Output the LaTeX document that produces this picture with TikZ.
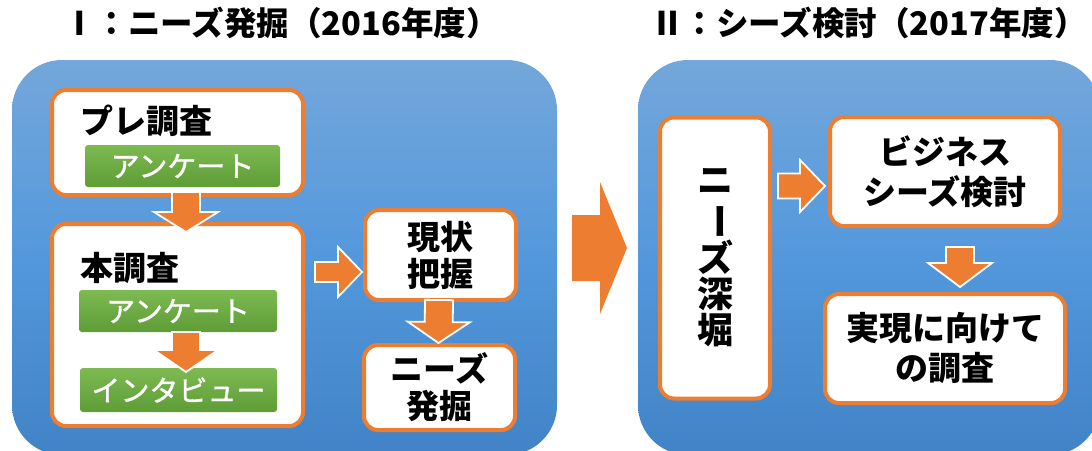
\documentclass[tikz,border=0pt]{standalone}
\usepackage{fontspec}
\usepackage{graphicx}
\newfontfamily\jp{Noto Sans CJK JP}
\newfontfamily\jpg[FakeBold=1.2]{Noto Sans CJK JP}
\usetikzlibrary{calc}
\definecolor{orng}{HTML}{ED7D31}
\definecolor{blueT}{HTML}{74A7DB}
\definecolor{blueM}{HTML}{5398DC}
\definecolor{blueB}{HTML}{4183C6}
\definecolor{greenT}{HTML}{7DBA52}
\definecolor{greenB}{HTML}{5E9C36}
\newcommand\barrow[6][]{%
  \coordinate (ba-h) at ($#3!#6!#2$);
  \path[barrowstyle,#1] ($#2!#4!90:#3$) -- ($(ba-h)!#4!90:#3$) -- ($(ba-h)!#5!90:#3$) -- #3
    -- ($(ba-h)!#5!-90:#3$) -- ($(ba-h)!#4!-90:#3$) -- ($#2!#4!-90:#3$) -- cycle;
}
\tikzset{
  barrowstyle/.style={fill=orng, draw=white, line width=1.8pt, line join=miter},
  panel/.style={rounded corners=50pt, top color=blueT, bottom color=blueB, middle color=blueM, inner sep=0pt, outer sep=0pt},
  obox/.style={draw=orng, line width=4pt, fill=white, rounded corners=14pt, inner sep=0pt, outer sep=2pt,
    align=center, font=\jp\bfseries\fontsize{33}{37}\selectfont},
  gbox/.style={top color=greenT, bottom color=greenB, rounded corners=3pt, inner sep=0pt, outer sep=0pt,
    text=white, font=\jpg\fontsize{29}{32}\selectfont},
  ttl/.style={font=\jp\bfseries\fontsize{32.5}{36}\selectfont, inner sep=0pt},
  lbl/.style={font=\jp\bfseries\fontsize{33}{37}\selectfont, inner sep=0pt, anchor=west},
}
\begin{document}
\begin{tikzpicture}[x=1pt,y=-1pt]
\useasboundingbox (0,0) rectangle (1092,450);
\clip (0,0) rectangle (1092,450);
% titles
\node[ttl] (t1) at (281,23) {Ⅰ：ニーズ発掘（2016年度）};
\node[ttl] (t2) at (869,23) {Ⅱ：シーズ検討（2017年度）};
% panels
\node[panel, minimum width=545pt, minimum height=395pt] (p1) at (284.5,257.5) {};
\node[panel, minimum width=462pt, minimum height=395pt] (p2) at (869,257.5) {};
% left panel boxes
\node[obox, minimum width=251pt, minimum height=105pt] (pre) at (177.5,142.5) {};
\node[lbl] (pret) at (80,121) {プレ調査};
\node[gbox, minimum width=195pt, minimum height=42pt] (ank1) at (182.5,166) {アンケート};
\node[obox, minimum width=251pt, minimum height=202pt] (main) at (177.5,325) {};
\node[lbl] (maint) at (80,268) {本調査};
\node[gbox, minimum width=198pt, minimum height=42pt] (ank2) at (178,311) {アンケート};
\node[gbox, minimum width=197pt, minimum height=44pt] (intv) at (178.5,390) {インタビュー};
\node[obox, minimum width=151pt, minimum height=90pt] (genjo) at (440.5,255) {現状\\把握};
\node[obox, minimum width=151pt, minimum height=85pt] (needs) at (439.5,387.5) {ニーズ\\発掘};
% right panel boxes
\node[obox, minimum width=110pt, minimum height=281pt, font=\jp\bfseries\fontsize{36}{36}\selectfont] (deep) at (715,258)
  {ニ\\\rotatebox[origin=c]{-90}{ー}\\ズ\\深\\堀};
\node[obox, minimum width=230pt, minimum height=109pt, font=\jp\bfseries\fontsize{33}{40}\selectfont] (biz) at (945,171.5) {ビジネス\\シーズ検討};
\node[obox, minimum width=240pt, minimum height=109pt, font=\jp\bfseries\fontsize{33}{40}\selectfont] (real) at (945,348.5) {実現に向けて\\の調査};
% arrows
\barrow{($(pre.south)+(8.5,-5)$)}{($(main.north)+(8.5,10)$)}{14pt}{32pt}{20pt}
\barrow{($(ank2.south)+(8,0)$)}{($(intv.north)+(7.5,4)$)}{14pt}{32pt}{22pt}
\barrow{($(main.east |- genjo.west)+(10,17)$)}{($(genjo.west)+(-1,17)$)}{10pt}{25pt}{24pt}
\barrow{($(genjo.south)+(-1.5,-2)$)}{($(needs.north)+(-1,0)$)}{14pt}{31pt}{21pt}
\barrow[draw=none]{($(p1.east)+(15,-9.5)$)}{($(p2.west)+(-11,-9.5)$)}{33pt}{66pt}{27pt}
\barrow{($(deep.east |- biz.west)+(6,14.5)$)}{($(biz.west)+(-3,14.5)$)}{12.5pt}{26pt}{25pt}
\barrow{($(biz.south)+(15,19)$)}{($(real.north)+(15,-5)$)}{14pt}{32pt}{24pt}
\end{tikzpicture}
\end{document}
